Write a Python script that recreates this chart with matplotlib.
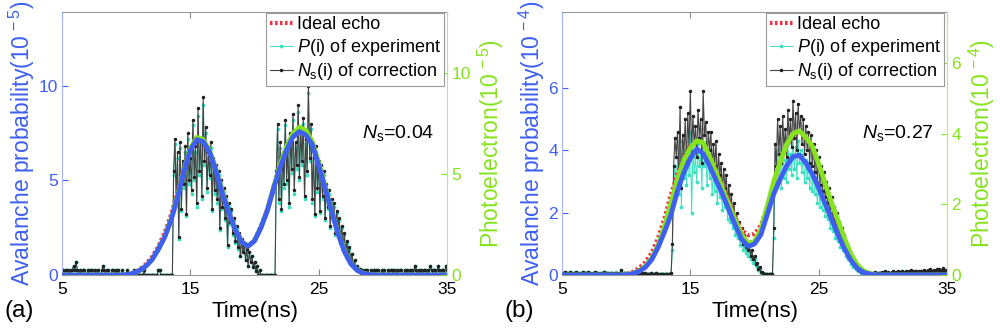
import numpy as np
import matplotlib.pyplot as plt

plt.rcParams['font.family'] = ['Liberation Sans', 'DejaVu Sans']
plt.rcParams['mathtext.fontset'] = 'custom'
plt.rcParams['mathtext.rm'] = 'Liberation Sans'
plt.rcParams['mathtext.it'] = 'Liberation Sans:italic'

BLUE = '#3f5ff0'
GREEN = '#86e31f'
RED = '#ee3040'
CYAN = '#3ee0c0'
DARK = '#222222'

# smooth curves, sampled every 0.5 ns from 5 to 35 ns
T_SMOOTH = np.arange(5, 35.01, 0.5)

ideal_a = [0, 0, 0, 0, 0, 0, 0, 0, 0, 0,
           0.03, 0.1, 0.28, 0.55, 0.95, 1.5, 2.25, 3.2, 4.4, 5.7,
           6.7, 7.15, 7.05, 6.5, 5.5, 4.3, 3.3, 2.4, 1.75, 1.52,
           1.85, 2.6, 3.5, 4.7, 5.8, 6.65, 7.3, 7.58, 7.4, 6.9,
           5.8, 4.6, 3.4, 2.2, 1.25, 0.6, 0.25, 0.08, 0.02, 0,
           0, 0, 0, 0, 0, 0, 0, 0, 0, 0, 0]
fit_a = [0, 0, 0, 0, 0, 0, 0, 0, 0, 0,
         0.02, 0.08, 0.22, 0.45, 0.8, 1.35, 2.0, 2.9, 4.1, 5.5,
         6.6, 7.15, 7.05, 6.5, 5.5, 4.3, 3.3, 2.4, 1.75, 1.52,
         1.8, 2.5, 3.4, 4.6, 5.7, 6.6, 7.3, 7.58, 7.4, 6.9,
         5.8, 4.6, 3.4, 2.2, 1.25, 0.6, 0.25, 0.08, 0.02, 0,
         0, 0, 0, 0, 0, 0, 0, 0, 0, 0, 0]
photo_a = [0, 0, 0, 0, 0, 0, 0, 0, 0, 0,
           0.02, 0.07, 0.2, 0.42, 0.75, 1.25, 1.9, 2.75, 3.9, 5.2,
           6.25, 6.8, 6.7, 6.15, 5.2, 4.1, 3.1, 2.25, 1.65, 1.43,
           1.7, 2.35, 3.2, 4.35, 5.45, 6.35, 7.0, 7.3, 7.15, 6.6,
           5.55, 4.4, 3.2, 2.1, 1.2, 0.58, 0.24, 0.08, 0.02, 0,
           0, 0, 0, 0, 0, 0, 0, 0, 0, 0, 0]

ideal_b = [0, 0, 0, 0, 0, 0, 0, 0, 0, 0,
           0.03, 0.1, 0.22, 0.42, 0.72, 1.2, 1.85, 2.6, 3.25, 3.8,
           4.15, 4.3, 4.25, 3.85, 3.35, 2.85, 2.35, 1.85, 1.45, 1.28,
           1.32, 1.6, 2.2, 2.95, 3.6, 4.15, 4.5, 4.6, 4.4, 4.1,
           3.55, 2.95, 2.3, 1.7, 1.15, 0.65, 0.3, 0.12, 0.04, 0,
           0, 0, 0, 0, 0, 0, 0, 0, 0, 0, 0]
fit_b = [0, 0, 0, 0, 0, 0, 0, 0, 0, 0,
         0.01, 0.04, 0.12, 0.25, 0.5, 0.9, 1.4, 1.95, 2.7, 3.3,
         3.75, 4.05, 3.9, 3.5, 3.05, 2.6, 2.1, 1.6, 1.15, 0.92,
         1.0, 1.3, 1.95, 2.6, 3.08, 3.5, 3.8, 3.85, 3.6, 3.25,
         2.8, 2.3, 1.8, 1.3, 0.85, 0.48, 0.22, 0.08, 0.03, 0,
         0, 0, 0, 0, 0, 0, 0, 0, 0, 0, 0]
photo_b = [0, 0, 0, 0, 0, 0, 0, 0, 0, 0,
           0.01, 0.04, 0.12, 0.25, 0.48, 0.85, 1.4, 2.05, 2.7, 3.25,
           3.6, 3.8, 3.75, 3.35, 2.9, 2.45, 2.0, 1.55, 1.15, 0.9,
           0.95, 1.3, 1.95, 2.65, 3.2, 3.7, 4.0, 4.08, 3.9, 3.65,
           3.15, 2.6, 2.05, 1.55, 1.05, 0.6, 0.3, 0.12, 0.04, 0,
           0, 0, 0, 0, 0, 0, 0, 0, 0, 0, 0]

# measured data, one row per ns (x.0 ... x.9), last value is 35.0 ns
ns_a = [0.25, 0.25, 0, 0.25, 0.25, 0, 0.25, 0, 0.25, 0.5,
        0.25, 0.7, 0.25, 0, 0.25, 0, 0.25, 0.25, 0, 0,
        0.25, 0, 0.25, 0.25, 0, 0, 0.25, 0, 0.25, 0,
        0, 0.25, 0.5, 0.25, 0, 0.25, 0.25, 0, 0, 0.25,
        0.25, 0, 0.25, 0, 0.25, 0, 0, 0.25, 0, 0,
        0, 0.25, 0, 0, 0, 0, 0.25, 0, 0, 0,
        0, 0, 0, 0, 0.25, 0, 0, 0, 0, 0,
        0, 0, 0, 0, 0, 0.25, 0.25, 0, 0, 0,
        0, 0, 0, 0, 0, 0, 0, 5.5, 7.2, 4.0,
        6.5, 2.0, 7.0, 3.5, 6.0, 4.8, 6.8, 3.2, 7.5, 5.0,
        6.2, 4.5, 8.2, 5.2, 6.8, 3.8, 8.8, 5.5, 7.2, 4.2,
        9.4, 6.0, 7.8, 4.6, 6.5, 5.3, 7.0, 3.5, 6.2, 4.5,
        5.8, 4.0, 5.5, 2.5, 5.0, 3.6, 4.6, 3.0, 4.2, 1.6,
        3.8, 2.8, 3.5, 2.2, 3.0, 1.8, 2.6, 1.5, 2.2, 1.0,
        1.9, 1.2, 1.6, 0.8, 1.4, 0.5, 1.2, 0.7, 1.0, 0.4,
        0.7, 0.2, 0.5, 0, 0.25, 0, 0, 0, 0, 0,
        0, 0, 0, 0, 0, 0, 0, 5.5, 8.0, 4.0,
        7.0, 3.5, 6.5, 4.8, 8.2, 5.0, 6.8, 3.8, 7.5, 5.6,
        8.5, 4.5, 7.0, 5.8, 9.0, 5.2, 7.8, 6.0, 8.3, 4.2,
        7.2, 5.5, 10.0, 6.2, 8.0, 4.0, 6.5, 3.2, 6.8, 4.6,
        6.0, 3.4, 5.8, 4.2, 5.5, 3.0, 4.8, 3.6, 4.5, 2.6,
        4.0, 3.0, 3.8, 2.2, 3.4, 2.5, 3.0, 1.8, 2.6, 1.5,
        2.2, 1.2, 1.8, 1.0, 1.5, 0.6, 1.1, 0.5, 0.8, 0.3,
        0.5, 0.25, 0.3, 0, 0.25, 0, 0.25, 0, 0.25, 0,
        0, 0.25, 0, 0.25, 0, 0.25, 0.25, 0, 0, 0.25,
        0, 0.25, 0, 0, 0.25, 0, 0.25, 0.25, 0, 0.25,
        0, 0.25, 0, 0.25, 0.25, 0, 0, 0.25, 0, 0.25,
        0, 0.25, 0, 0.25, 0, 0.5, 0.25, 0, 0.25, 0,
        0.25, 0, 0.25, 0.25, 0, 0.25, 0, 0.5, 0.25, 0,
        0.25, 0.25, 0, 0.5, 0.25, 0, 0.25, 0.25, 0, 0.5,
        0.25]
p_a = [0.25, 0.25, 0, 0.25, 0.25, 0, 0.25, 0, 0.25, 0.5,
       0.25, 0.7, 0.25, 0, 0.25, 0, 0.25, 0.25, 0, 0,
       0.25, 0, 0.25, 0.25, 0, 0, 0.25, 0, 0.25, 0,
       0, 0.25, 0.5, 0.25, 0, 0.25, 0.25, 0, 0, 0.25,
       0.25, 0, 0.25, 0, 0.25, 0, 0, 0.25, 0, 0,
       0, 0.25, 0, 0, 0, 0, 0.25, 0, 0, 0,
       0, 0, 0, 0, 0.25, 0, 0, 0, 0, 0,
       0, 0, 0, 0, 0, 0.25, 0.25, 0, 0, 0,
       0, 0, 0, 0, 0, 0, 0, 5.3, 6.9, 3.8,
       6.2, 1.9, 6.7, 3.4, 5.8, 4.6, 6.5, 3.1, 7.2, 4.8,
       6.0, 4.3, 7.9, 5.0, 6.5, 3.6, 8.4, 5.3, 6.9, 4.0,
       9.0, 5.8, 7.5, 4.4, 6.2, 5.1, 6.7, 3.4, 6.0, 4.3,
       5.6, 3.8, 5.3, 2.4, 4.8, 3.5, 4.4, 2.9, 4.0, 1.5,
       3.6, 2.7, 3.4, 2.1, 2.9, 1.7, 2.5, 1.4, 2.1, 1.0,
       1.8, 1.2, 1.5, 0.8, 1.3, 0.5, 1.2, 0.7, 1.0, 0.4,
       0.7, 0.2, 0.5, 0, 0.25, 0, 0, 0, 0, 0,
       0, 0, 0, 0, 0, 0, 0, 5.3, 7.7, 3.8,
       6.7, 3.4, 6.2, 4.6, 7.9, 4.8, 6.5, 3.6, 7.2, 5.4,
       8.2, 4.3, 6.7, 5.6, 8.6, 5.0, 7.5, 5.8, 8.0, 4.0,
       6.9, 5.3, 9.6, 6.0, 7.7, 3.8, 6.2, 3.1, 6.5, 4.4,
       5.8, 3.3, 5.6, 4.0, 5.3, 2.9, 4.6, 3.5, 4.3, 2.5,
       3.8, 2.9, 3.6, 2.1, 3.3, 2.4, 2.9, 1.7, 2.5, 1.4,
       2.1, 1.2, 1.7, 1.0, 1.4, 0.6, 1.1, 0.5, 0.8, 0.3,
       0.5, 0.25, 0.3, 0, 0.25, 0, 0.25, 0, 0.25, 0,
       0, 0.25, 0, 0.25, 0, 0.25, 0.25, 0, 0, 0.25,
       0, 0.25, 0, 0, 0.25, 0, 0.25, 0.25, 0, 0.25,
       0, 0.25, 0, 0.25, 0.25, 0, 0, 0.25, 0, 0.25,
       0, 0.25, 0, 0.25, 0, 0.5, 0.25, 0, 0.25, 0,
       0.25, 0, 0.25, 0.25, 0, 0.25, 0, 0.5, 0.25, 0,
       0.25, 0.25, 0, 0.5, 0.25, 0, 0.25, 0.25, 0, 0.5,
       0.25]

ns_b = [0.08, 0.05, 0.1, 0.06, 0.08, 0.04, 0.1, 0.07, 0.05, 0.08,
        0.06, 0.1, 0.05, 0.08, 0.04, 0.07, 0.1, 0.05, 0.08, 0.06,
        0.1, 0.05, 0.07, 0.04, 0.08, 0.06, 0.1, 0.05, 0.07, 0.04,
        0.06, 0.08, 0.04, 0.1, 0.05, 0.06, 0.04, 0.08, 0.05, 0.06,
        0.04, 0.07, 0.05, 0.06, 0.04, 0.05, 0.15, 0.04, 0.06, 0.05,
        0.04, 0.05, 0.03, 0.06, 0.04, 0.05, 0.03, 0.04, 0.05, 0.03,
        0.04, 0.03, 0.05, 0.03, 0.04, 0.05, 0.03, 0.04, 0.03, 0.05,
        0.03, 0.04, 0.03, 0.05, 0.03, 0.04, 0.03, 0.04, 0.03, 0.04,
        0.03, 0.04, 0.03, 0.04, 0.03, 0.05, 1.0, 3.5, 4.4, 3.8,
        4.6, 3.2, 5.4, 2.8, 4.5, 3.9, 5.0, 3.6, 5.2, 4.0,
        5.9, 3.9, 5.1, 4.2, 4.8, 3.8, 5.3, 4.4, 5.0, 3.6,
        5.9, 4.5, 4.9, 3.7, 4.6, 4.0, 4.6, 3.4, 4.2, 3.5,
        4.3, 3.0, 3.9, 3.2, 3.6, 2.7, 3.4, 2.8, 3.2, 2.3,
        2.9, 2.2, 2.6, 1.9, 2.3, 1.7, 2.0, 1.5, 1.7, 1.2,
        1.5, 1.0, 1.3, 0.9, 1.1, 0.8, 1.0, 0.6, 0.8, 0.5,
        0.6, 0.35, 0.4, 0.2, 0.25, 0.1, 0.1, 0.05, 0.03, 0.02,
        0.02, 0.02, 0.02, 0.02, 0.02, 1.5, 4.2, 3.5, 5.0, 3.9,
        4.8, 3.6, 5.1, 4.0, 4.7, 3.8, 5.3, 4.3, 5.0, 4.1,
        5.6, 4.4, 5.2, 4.0, 5.5, 4.6, 5.1, 4.2, 5.0, 3.9,
        4.8, 4.0, 4.6, 3.6, 4.5, 3.5, 4.2, 3.3, 4.0, 3.0,
        3.8, 2.9, 3.5, 2.7, 3.3, 2.5, 3.0, 2.3, 2.8, 2.0,
        2.5, 1.8, 2.2, 1.6, 2.0, 1.4, 1.7, 1.2, 1.5, 1.0,
        1.3, 0.8, 1.0, 0.6, 0.8, 0.45, 0.6, 0.35, 0.4, 0.25,
        0.3, 0.15, 0.2, 0.1, 0.12, 0.08, 0.06, 0.1, 0.05, 0.08,
        0.06, 0.05, 0.08, 0.06, 0.1, 0.05, 0.07, 0.06, 0.08, 0.1,
        0.06, 0.08, 0.12, 0.07, 0.1, 0.08, 0.06, 0.1, 0.12, 0.08,
        0.1, 0.07, 0.12, 0.09, 0.1, 0.14, 0.08, 0.1, 0.12, 0.09,
        0.12, 0.1, 0.15, 0.09, 0.12, 0.1, 0.14, 0.11, 0.13, 0.1,
        0.14, 0.11, 0.16, 0.12, 0.1, 0.15, 0.12, 0.18, 0.13, 0.11,
        0.16, 0.12, 0.18, 0.14, 0.2, 0.13, 0.16, 0.22, 0.14, 0.17,
        0.15]
p_b = [0.08, 0.05, 0.1, 0.06, 0.08, 0.04, 0.1, 0.07, 0.05, 0.08,
       0.06, 0.1, 0.05, 0.08, 0.04, 0.07, 0.1, 0.05, 0.08, 0.06,
       0.1, 0.05, 0.07, 0.04, 0.08, 0.06, 0.1, 0.05, 0.07, 0.04,
       0.06, 0.08, 0.04, 0.1, 0.05, 0.06, 0.04, 0.08, 0.05, 0.06,
       0.04, 0.07, 0.05, 0.06, 0.04, 0.05, 0.15, 0.04, 0.06, 0.05,
       0.04, 0.05, 0.03, 0.06, 0.04, 0.05, 0.03, 0.04, 0.05, 0.03,
       0.04, 0.03, 0.05, 0.03, 0.04, 0.05, 0.03, 0.04, 0.03, 0.05,
       0.03, 0.04, 0.03, 0.05, 0.03, 0.04, 0.03, 0.04, 0.03, 0.04,
       0.03, 0.04, 0.03, 0.04, 0.03, 0.05, 0.8, 2.8, 3.5, 3.0,
       3.7, 2.6, 4.3, 2.2, 3.6, 3.1, 4.0, 2.9, 4.1, 3.2,
       4.6, 2.0, 4.0, 3.3, 3.8, 3.0, 4.2, 3.5, 3.9, 2.8,
       4.7, 3.5, 3.9, 2.9, 3.6, 3.1, 3.6, 2.6, 3.3, 2.7,
       3.4, 2.3, 3.0, 2.5, 2.8, 2.1, 2.6, 2.2, 2.5, 1.8,
       2.3, 1.7, 2.0, 1.5, 1.8, 1.3, 1.6, 1.2, 1.3, 0.95,
       1.2, 0.8, 1.0, 0.7, 0.9, 0.6, 0.8, 0.5, 0.6, 0.4,
       0.5, 0.28, 0.3, 0.15, 0.2, 0.08, 0.08, 0.04, 0.02, 0.02,
       0.02, 0.02, 0.02, 0.02, 0.02, 1.2, 3.3, 2.8, 4.0, 3.1,
       3.8, 2.8, 4.0, 3.1, 3.7, 3.0, 4.2, 3.4, 3.9, 3.2,
       4.4, 3.4, 4.1, 3.1, 4.3, 3.6, 4.0, 3.3, 3.9, 3.0,
       3.7, 3.1, 3.6, 2.8, 3.5, 2.7, 3.3, 2.6, 3.1, 2.3,
       2.9, 2.2, 2.7, 2.1, 2.5, 1.9, 2.3, 1.8, 2.2, 1.5,
       1.9, 1.4, 1.7, 1.2, 1.5, 1.1, 1.3, 0.9, 1.1, 0.8,
       1.0, 0.6, 0.8, 0.5, 0.6, 0.35, 0.45, 0.27, 0.3, 0.2,
       0.25, 0.12, 0.16, 0.08, 0.1, 0.07, 0.05, 0.08, 0.04, 0.07,
       0.05, 0.04, 0.07, 0.05, 0.08, 0.04, 0.06, 0.05, 0.07, 0.08,
       0.05, 0.07, 0.1, 0.06, 0.08, 0.07, 0.05, 0.08, 0.1, 0.07,
       0.08, 0.06, 0.1, 0.08, 0.08, 0.12, 0.07, 0.08, 0.1, 0.08,
       0.1, 0.08, 0.13, 0.08, 0.1, 0.08, 0.12, 0.09, 0.11, 0.08,
       0.12, 0.09, 0.14, 0.1, 0.08, 0.13, 0.1, 0.15, 0.11, 0.09,
       0.14, 0.1, 0.15, 0.12, 0.17, 0.11, 0.14, 0.19, 0.12, 0.14,
       0.13]


def draw_panel(fig, rect, ideal, fit, photo, ns, p, exp_label, ylim_l, ylim_r,
               yticks, ns_text, tag):
    ax = fig.add_axes(rect)
    t_noisy = 5 + 0.1 * np.arange(len(ns))

    h_p, = ax.plot(t_noisy, p, color=CYAN, lw=0.7, marker='.', ms=3.5)
    h_ns, = ax.plot(t_noisy, ns, color='#444444', lw=0.8, marker='.', ms=3,
                    mfc=DARK, mec=DARK)
    h_ideal, = ax.plot(T_SMOOTH, ideal, color=RED, lw=3, ls=(0, (0.6, 0.6)))

    ax.set_xlim(5, 35)
    ax.set_ylim(*ylim_l)
    ax.set_xticks([5, 15, 25, 35])
    ax.set_yticks(yticks)
    ax.tick_params(direction='in', length=4, labelsize=12.5, top=True,
                   colors='#888888', labelcolor='black', pad=5)
    ax.tick_params(axis='y', colors=BLUE, labelcolor=BLUE, right=True, pad=3)
    ax.set_xlabel('Time(ns)', fontsize=16, labelpad=3)
    ax.set_ylabel('Avalanche probability(10$^{\\,' + exp_label + '}$)',
                  color=BLUE, fontsize=16.5, labelpad=1)
    for side in ['top', 'bottom']:
        ax.spines[side].set_color('#999999')
    ax.spines['left'].set_color('#a8b4ff')
    ax.spines['right'].set_visible(False)
    ax.text(28.4, ylim_l[1] * 0.52, ns_text, fontsize=14)

    # photoelectron curve on its own right-hand scale
    ax2 = ax.twinx()
    ax2.plot(T_SMOOTH, photo, color=GREEN, lw=3.5, solid_capstyle='round')
    ax2.set_ylim(*ylim_r)
    ax2.set_yticks(yticks)
    ax2.tick_params(direction='in', length=4, labelsize=12.5, colors=GREEN,
                    pad=3)
    ax2.spines['right'].set_color('#b0f070')
    ax2.spines['left'].set_visible(False)
    ax2.spines['top'].set_visible(False)
    ax2.spines['bottom'].set_visible(False)
    ax2.set_ylabel('Photoelectron(10$^{\\,' + exp_label + '}$)',
                   color=GREEN, fontsize=16.5, labelpad=4)

    # blue avalanche curve drawn on top of everything
    ax3 = fig.add_axes(rect, sharex=ax, sharey=ax)
    ax3.patch.set_visible(False)
    ax3.axis('off')
    ax3.plot(T_SMOOTH, fit, color=BLUE, lw=3.5, solid_capstyle='round')

    leg = ax3.legend([h_ideal, h_p, h_ns],
                     ['Ideal echo', '$P$(i) of experiment',
                      '$N_\\mathrm{s}$(i) of correction'],
                     loc='upper right', bbox_to_anchor=(0.993, 0.997),
                     fontsize=13, fancybox=False, framealpha=1,
                     edgecolor='#999999', borderaxespad=0, handlelength=1.3,
                     handletextpad=0.2, borderpad=0.2, labelspacing=0.2)
    leg.get_frame().set_linewidth(0.8)

    fig.text(rect[0] - 0.057, 0.055, tag, fontsize=17.5, va='center')


def main():
    fig = plt.figure(figsize=(10, 3.29), dpi=100)
    draw_panel(fig, [0.062, 0.164, 0.385, 0.8], ideal_a, fit_a, photo_a,
               ns_a, p_a, '-5', (0, 13.9), (0, 13.0), [0, 5, 10],
               '$N_\\mathrm{s}$=0.04', '(a)')
    draw_panel(fig, [0.562, 0.164, 0.385, 0.8], ideal_b, fit_b, photo_b,
               ns_b, p_b, '-4', (0, 8.45), (0, 7.45), [0, 2, 4, 6],
               '$N_\\mathrm{s}$=0.27', '(b)')
    fig.savefig('out.png', dpi=100)


if __name__ == '__main__':
    main()
